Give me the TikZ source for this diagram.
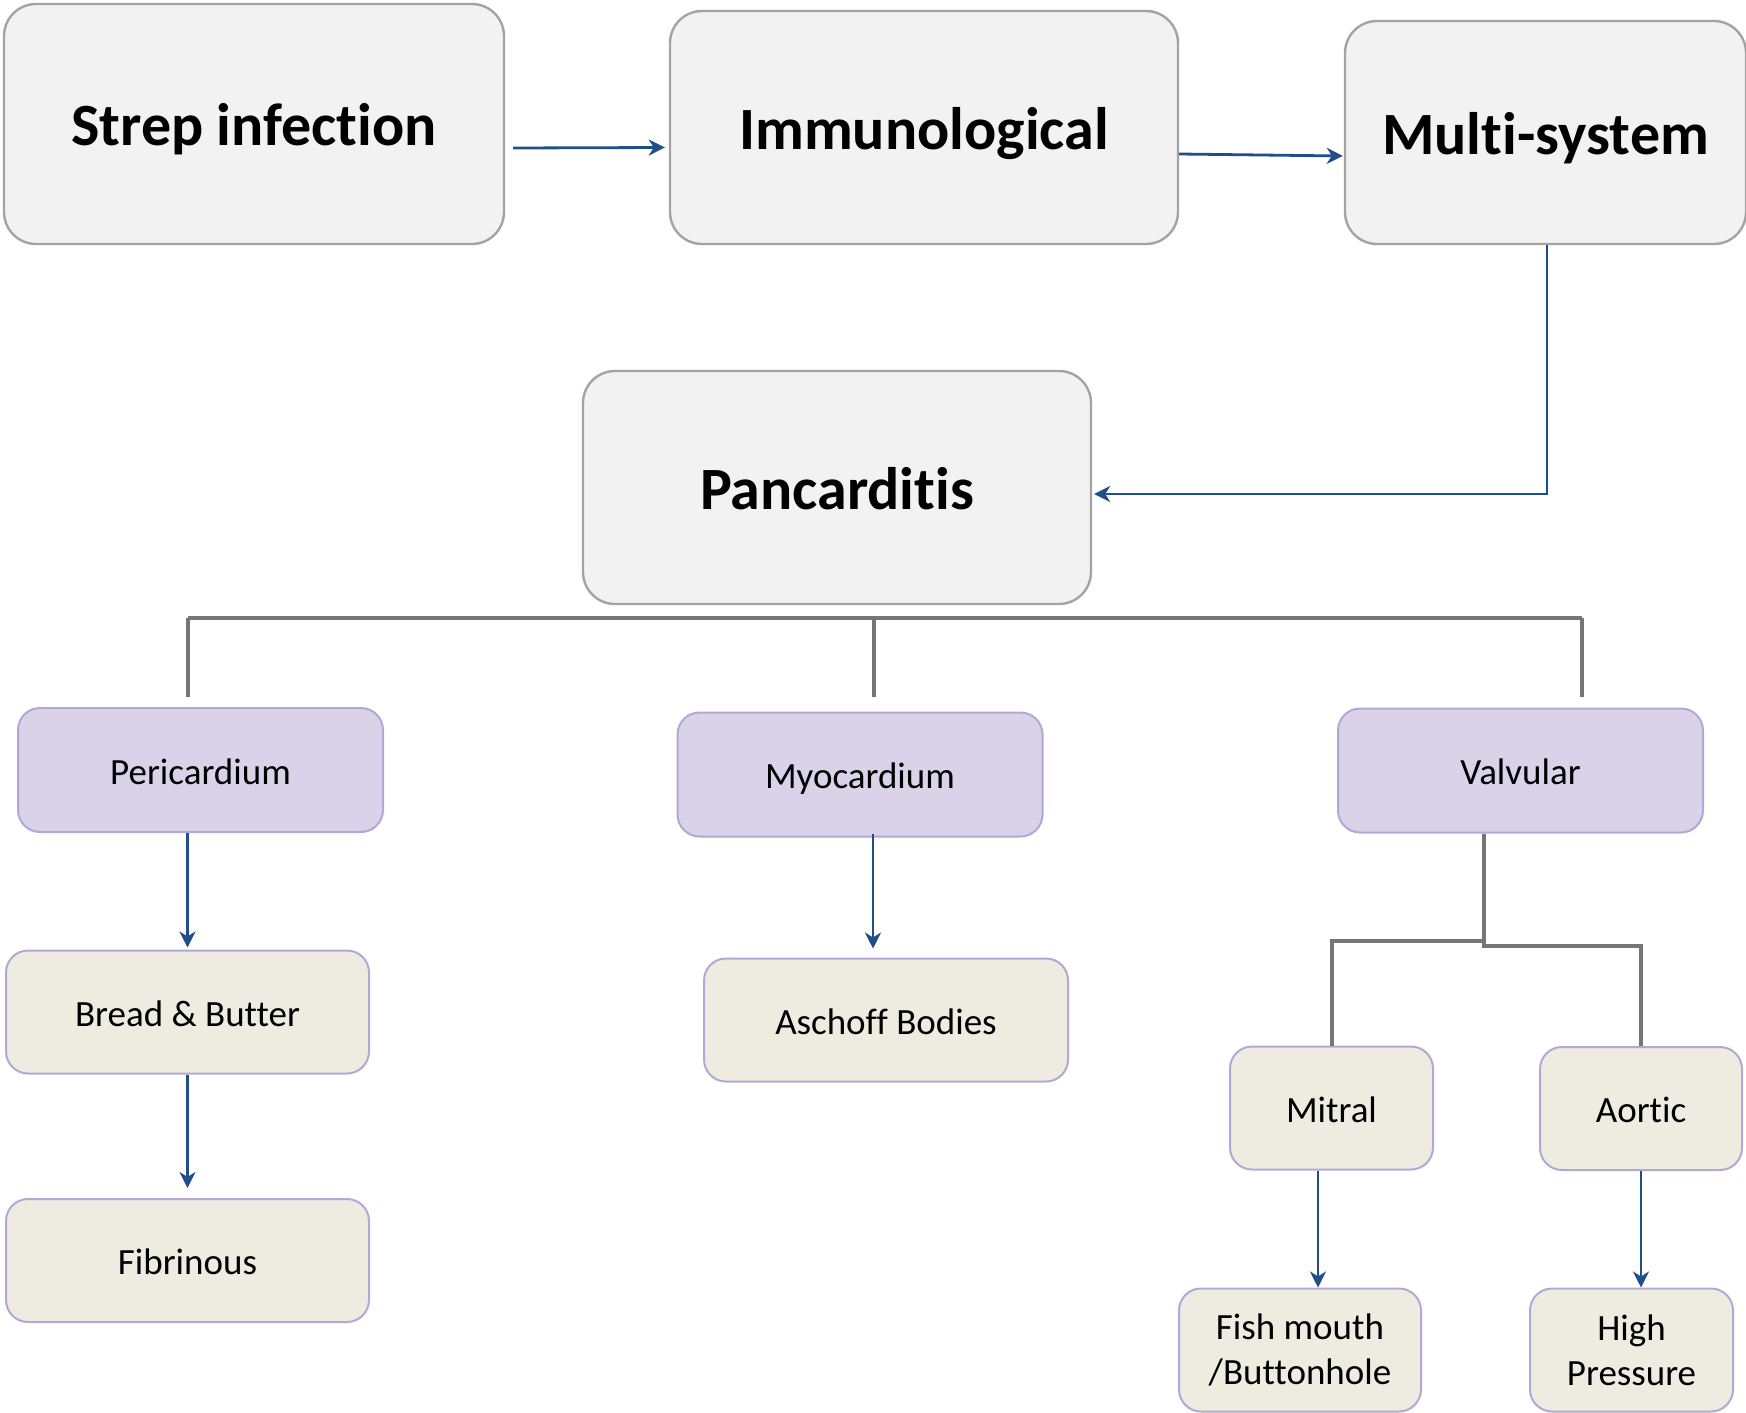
\documentclass[tikz,border=0pt]{standalone}
\usepackage{fontspec}
\setmainfont{Carlito}[Ligatures={NoCommon,NoContextual}]
\usetikzlibrary{arrows.meta}

\definecolor{BoxGray}{HTML}{F2F2F2}
\definecolor{BoxLine}{HTML}{A3A3A3}
\definecolor{Lilac}{HTML}{D9D2E9}
\definecolor{LilacLine}{HTML}{B4A7D6}
\definecolor{Sand}{HTML}{EEECE1}
\definecolor{TreeGray}{HTML}{767676}
\definecolor{FlowBlue}{HTML}{1F4E89}

\begin{document}
\begin{tikzpicture}[x=0.5pt,y=-0.5pt,
  bigbox/.style={draw=BoxLine,fill=BoxGray,line width=1.2pt,rounded corners=16pt,
    minimum width=254pt,minimum height=116.5pt,text height=28pt,text depth=6pt,
    font=\fontsize{30}{36}\selectfont\bfseries},
  partbox/.style={draw=LilacLine,fill=Lilac,line width=1pt,rounded corners=11pt,
    minimum width=182.5pt,minimum height=62pt,text height=18pt,text depth=3.7pt,
    font=\fontsize{18.5}{22.5}\selectfont},
  findbox/.style={draw=LilacLine,fill=Sand,line width=1pt,rounded corners=11pt,
    minimum height=61.5pt,align=center,font=\fontsize{18.5}{22.5}\selectfont},
  findline/.style={findbox,text height=18pt,text depth=3.7pt},
  flow/.style={draw=FlowBlue,line width=1.4pt,-{Stealth[length=8pt,width=8pt,inset=2.5pt]}},
  tree/.style={draw=TreeGray,line width=2pt}]
\useasboundingbox (0,0) rectangle (1746,1413);
% top row
\node[bigbox,minimum width=250pt,minimum height=120pt] at (254,124) (Strep) {Strep infection};
\node[bigbox] at (924,127.5) (Immuno) {Immunological};
\node[bigbox,minimum width=200.5pt,minimum height=111.5pt] at (1545.5,132.5) (Multi) {Multi-system};
\node[bigbox] at (837,487.5) (Pancard) {Pancarditis};
% layers
\node[partbox] at (200.5,770) (Peri) {Pericardium};
\node[partbox] at (860,774.5) (Myo) {Myocardium};
\node[partbox] at (1520.5,770.5) (Valv) {Valvular};
% findings
\node[findline,minimum width=181.5pt] at (187.5,1012) (Bread) {Bread \& Butter};
\node[findline,minimum width=181.5pt] at (187.5,1260.5) (Fibrin) {Fibrinous};
\node[findline,minimum width=182pt] at (886,1020) (Aschoff) {Aschoff Bodies};
\node[findline,minimum width=101.5pt] at (1331.5,1108) (Mitral) {Mitral};
\node[findline,minimum width=101pt] at (1641,1108.5) (Aortic) {Aortic};
\node[findbox,minimum width=121pt,minimum height=61.5pt] at (1300,1350) (Fish) {Fish mouth\\/Buttonhole};
\node[findbox,minimum width=101.5pt,minimum height=61.5pt] at (1631.5,1350) (HighP) {High\\Pressure};

\draw[flow] ([shift={(8,24)}]Strep.east) -- ([shift={(-4,20)}]Immuno.west);
\draw[flow] ([shift={(0,26.5)}]Immuno.east) -- ([shift={(-1,23.5)}]Multi.west);
\draw[flow] ([shift={(1.5,0)}]Multi.south) |- ([shift={(2,6.5)}]Pancard.east);

% bus under Pancarditis
\coordinate (BusL) at (188,618);
\coordinate (BusM) at (874,618);
\coordinate (BusR) at (1582,618);
\draw[tree] (BusL) -- (BusR);
\draw[tree] (BusL) -- ++(0,79);
\draw[tree] (BusM) -- ++(0,79);
\draw[tree] (BusR) -- ++(0,79);

\draw[flow] (Peri.south -| Bread.north) -- ([yshift=1pt]Bread.north);
\draw[flow] (Bread.south) -- ([shift={(0,-10)}]Fibrin.north);
\draw[flow] ([shift={(13,-4)}]Myo.south) -- ([shift={(-13,-9)}]Aschoff.north);

\draw[tree] ([shift={(-36.5,0)}]Valv.south) -- ++(0,112) coordinate (ValvJ) -| (Aortic.north);
\draw[tree] ([shift={(0,-5)}]ValvJ) -| (Mitral.north);
\draw[flow] ([shift={(-13.5,0)}]Mitral.south) -- ([shift={(18,0)}]Fish.north);
\draw[flow] (Aortic.south) -- (Aortic.south |- HighP.north);
\end{tikzpicture}
\end{document}
